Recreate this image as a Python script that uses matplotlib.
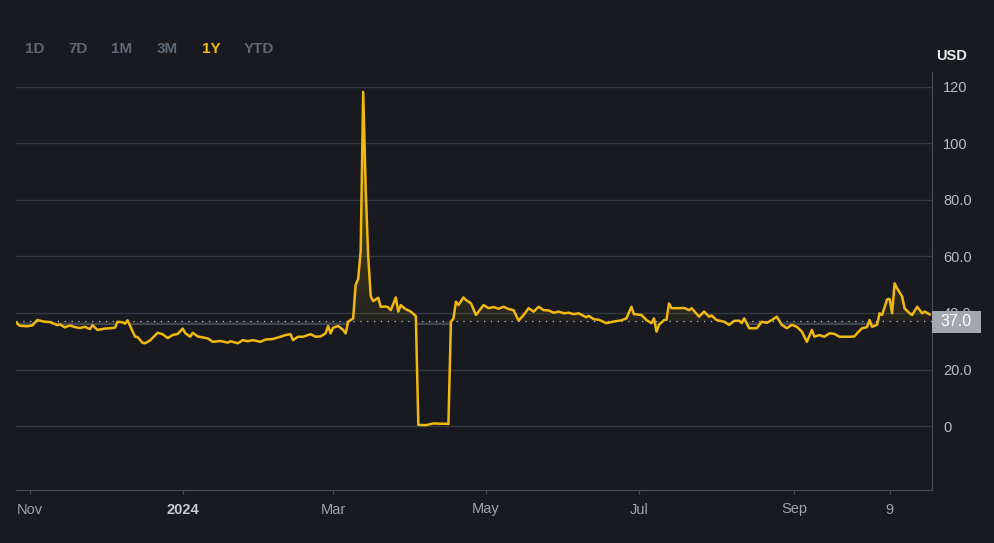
import numpy as np
import pandas as pd
import matplotlib
matplotlib.use("Agg")
import matplotlib.pyplot as plt
import matplotlib.dates as mdates
from matplotlib.path import Path
from matplotlib.patches import Rectangle

# daten
dates = [
    "2023-10-26", "2023-10-28", "2023-10-31", "2023-11-02", "2023-11-04", "2023-11-07", "2023-11-09",
    "2023-11-12", "2023-11-13", "2023-11-15", "2023-11-17", "2023-11-19", "2023-11-21", "2023-11-23",
    "2023-11-25", "2023-11-26", "2023-11-28", "2023-12-01", "2023-12-03", "2023-12-05", "2023-12-06",
    "2023-12-08", "2023-12-09", "2023-12-10", "2023-12-12", "2023-12-13", "2023-12-14", "2023-12-16",
    "2023-12-17", "2023-12-19", "2023-12-22", "2023-12-24", "2023-12-26", "2023-12-28", "2023-12-30",
    "2024-01-01", "2024-01-02", "2024-01-04", "2024-01-05", "2024-01-07", "2024-01-11", "2024-01-13",
    "2024-01-16", "2024-01-19", "2024-01-20", "2024-01-23", "2024-01-25", "2024-01-27", "2024-01-29",
    "2024-02-01", "2024-02-03", "2024-02-06", "2024-02-09", "2024-02-11", "2024-02-13", "2024-02-14",
    "2024-02-16", "2024-02-18", "2024-02-21", "2024-02-23", "2024-02-25", "2024-02-27", "2024-02-28",
    "2024-02-29", "2024-03-01", "2024-03-03", "2024-03-05", "2024-03-06", "2024-03-07", "2024-03-09",
    "2024-03-10", "2024-03-11", "2024-03-12", "2024-03-13", "2024-03-14", "2024-03-15", "2024-03-16",
    "2024-03-17", "2024-03-19", "2024-03-20", "2024-03-22", "2024-03-23", "2024-03-24", "2024-03-26",
    "2024-03-27", "2024-03-28", "2024-03-30", "2024-04-01", "2024-04-03", "2024-04-04", "2024-04-07",
    "2024-04-10", "2024-04-13", "2024-04-15", "2024-04-16", "2024-04-17", "2024-04-18", "2024-04-19",
    "2024-04-20", "2024-04-22", "2024-04-23", "2024-04-25", "2024-04-27", "2024-04-30", "2024-05-02",
    "2024-05-04", "2024-05-06", "2024-05-08", "2024-05-10", "2024-05-12", "2024-05-14", "2024-05-16",
    "2024-05-18", "2024-05-20", "2024-05-22", "2024-05-24", "2024-05-26", "2024-05-28", "2024-05-30",
    "2024-06-01", "2024-06-03", "2024-06-05", "2024-06-07", "2024-06-10", "2024-06-11", "2024-06-13",
    "2024-06-15", "2024-06-18", "2024-06-21", "2024-06-24", "2024-06-26", "2024-06-28", "2024-06-29",
    "2024-07-02", "2024-07-04", "2024-07-06", "2024-07-07", "2024-07-08", "2024-07-09", "2024-07-11",
    "2024-07-12", "2024-07-13", "2024-07-14", "2024-07-17", "2024-07-19", "2024-07-21", "2024-07-22",
    "2024-07-25", "2024-07-27", "2024-07-29", "2024-07-30", "2024-08-01", "2024-08-04", "2024-08-06",
    "2024-08-08", "2024-08-10", "2024-08-11", "2024-08-12", "2024-08-14", "2024-08-17", "2024-08-19",
    "2024-08-21", "2024-08-23", "2024-08-25", "2024-08-27", "2024-08-29", "2024-08-31", "2024-09-02",
    "2024-09-04", "2024-09-06", "2024-09-08", "2024-09-09", "2024-09-11", "2024-09-13", "2024-09-15",
    "2024-09-17", "2024-09-19", "2024-09-23", "2024-09-25", "2024-09-26", "2024-09-28", "2024-09-30",
    "2024-10-01", "2024-10-02", "2024-10-04", "2024-10-05", "2024-10-06", "2024-10-08", "2024-10-09",
    "2024-10-10", "2024-10-11", "2024-10-12", "2024-10-14", "2024-10-15", "2024-10-17", "2024-10-18",
    "2024-10-20", "2024-10-22", "2024-10-23", "2024-10-25",
]
prices = [
    37.0, 35.5, 35.3, 35.6, 37.5, 36.9, 36.8,
    35.7, 36.0, 34.9, 35.6, 35.0, 34.7, 35.1,
    34.3, 35.7, 34.0, 34.5, 34.6, 34.8, 36.9,
    36.7, 36.2, 37.4, 33.5, 31.6, 31.5, 29.4,
    29.3, 30.3, 33.0, 32.5, 31.1, 32.2, 32.6,
    34.5, 32.9, 31.6, 33.0, 31.7, 31.0, 29.8,
    30.1, 29.5, 30.0, 29.3, 30.4, 30.0, 30.4,
    29.8, 30.6, 30.8, 31.6, 32.2, 32.5, 30.4,
    31.6, 31.6, 32.5, 31.6, 31.7, 32.8, 35.4,
    32.8, 34.8, 35.4, 34.0, 32.8, 36.9, 38.1,
    50.0, 52.0, 62.0, 118.3, 84.0, 60.0, 46.0,
    44.2, 45.4, 42.2, 42.3, 42.0, 41.0, 45.5,
    40.5, 42.8, 41.3, 40.5, 38.9, 0.4, 0.3,
    0.9, 0.8, 0.8, 0.7, 36.9, 38.0, 44.0,
    42.8, 45.5, 44.6, 43.4, 39.3, 42.8, 41.7,
    42.1, 41.5, 42.2, 41.4, 41.0, 37.3, 39.3,
    41.7, 40.5, 42.2, 41.0, 40.9, 40.1, 40.5,
    39.9, 40.1, 39.6, 39.9, 38.5, 39.0, 37.8,
    37.6, 36.4, 37.0, 37.4, 38.1, 42.2, 39.6,
    39.3, 37.5, 36.4, 38.1, 33.4, 35.8, 37.5,
    37.6, 43.4, 41.7, 41.7, 41.8, 41.0, 41.7,
    38.7, 40.5, 38.7, 39.1, 37.5, 36.9, 35.8,
    37.2, 37.3, 36.4, 38.1, 34.6, 34.6, 36.9,
    36.5, 37.5, 38.7, 35.8, 34.6, 35.8, 35.1,
    33.4, 29.8, 34.0, 31.6, 32.2, 31.6, 32.8,
    32.6, 31.6, 31.6, 31.7, 32.8, 34.6, 35.0,
    37.5, 35.1, 35.8, 39.9, 39.3, 44.8, 45.0,
    39.9, 50.5, 48.7, 45.8, 41.6, 39.9, 39.3,
    42.2, 39.9, 40.5, 39.5,
]
baseline = 37.0
y_ticks = [0, 20, 40, 60, 80, 100, 120]
y_labels = ["0", "20.0", "40.0", "60.0", "80.0", "100", "120"]
x_ticks = ["2023-11-01", "2024-01-01", "2024-03-01", "2024-05-01", "2024-07-01", "2024-09-01", "2024-10-09"]
x_labels = ["Nov", "2024", "Mar", "May", "Jul", "Sep", "9"]
buttons = ["1D", "7D", "1M", "3M", "1Y", "YTD"]
aktiv = "1Y"

bg = "#181a20"
gelb = "#f0b90b"

t = pd.to_datetime(dates)
tn = mdates.date2num(t)
y = np.array(prices)

fig = plt.figure(figsize=(9.94, 5.43), dpi=100, facecolor=bg)
W, H = 994, 543
ax = fig.add_axes([16 / W, (H - 490) / H, (932 - 16) / W, (490 - 72) / H])
ax.set_facecolor(bg)

x0 = mdates.date2num(pd.Timestamp("2023-10-26 12:00"))
x1 = mdates.date2num(pd.Timestamp("2024-10-25 22:00"))
ymin, ymax = -22.65, 125.3


def verlauf(y_a, y_b, where, rgb, a_oben, a_unten, y_oben, y_unten):
    # gradient fuellung, abgeschnitten auf die flaeche zwischen linie und basis
    poly = ax.fill_between(tn, y_a, y_b, where=where, interpolate=True,
                           facecolor="none", edgecolor="none")
    pfade = poly.get_paths()
    if not pfade:
        return
    pfad = Path.make_compound_path(*pfade)
    n = 256
    img = np.zeros((n, 1, 4))
    img[:, 0, 0:3] = np.array(rgb) / 255
    img[:, 0, 3] = np.linspace(a_unten, a_oben, n)
    im = ax.imshow(img, extent=[x0, x1, y_unten, y_oben], origin="lower",
                   aspect="auto", zorder=1, interpolation="bilinear")
    im.set_clip_path(pfad, ax.transData)


verlauf(y, baseline, y >= baseline, (240, 185, 11), 0.4, 0.06, 120, baseline)
verlauf(baseline, y, y <= baseline, (132, 142, 156), 0.0, 0.5, baseline, baseline - 1.1)

ax.plot(t, y, color=gelb, lw=1.8, zorder=4, solid_joinstyle="round")
ax.axhline(baseline, color="#b7bdc6", lw=0.9, ls=(0, (1, 4.5)), zorder=3)

for v in y_ticks:
    ax.axhline(v, color="#34383f", lw=1.0, zorder=0)

ax.set_xlim(x0, x1)
ax.set_ylim(ymin, ymax)

for s in ["top", "left"]:
    ax.spines[s].set_visible(False)
ax.spines["right"].set_color("#474d57")
ax.spines["bottom"].set_color("#474d57")

ax.yaxis.tick_right()
ax.set_yticks(y_ticks)
ax.set_yticklabels(y_labels)
ax.tick_params(axis="y", length=0, pad=8, labelsize=10.5, labelcolor="#b7bdc6")
for lab in ax.get_yticklabels():
    lab.set_fontfamily("Liberation Sans")
    lab.set_horizontalalignment("left")

ax.set_xticks(mdates.date2num(pd.to_datetime(x_ticks)))
ax.set_xticklabels(x_labels)
ax.tick_params(axis="x", length=3, color="#474d57", pad=6, labelsize=10.5, labelcolor="#9ea4ac")
for lab in ax.get_xticklabels():
    lab.set_fontfamily("Liberation Sans")
    if lab.get_text() == "2024":
        lab.set_fontweight("bold")
        lab.set_color("#c8ccd2")

# preis box rechts
ax.add_patch(Rectangle((932 / W, (H - 333) / H), 49 / W, 22.5 / H, transform=fig.transFigure,
                       facecolor="#a3a8b0", edgecolor="none", zorder=10, clip_on=False))
fig.text(956.5 / W, (H - 322) / H, "37.0", color="white", fontsize=11.5,
         ha="center", va="center", family="Liberation Sans", zorder=11)

fig.text(952 / W, (H - 56) / H, "USD", color="#eaecef", fontsize=10.5, fontweight="bold",
         ha="center", va="center", family="Liberation Sans")

xs = [35, 78, 122, 167, 211, 259]
for b, xb in zip(buttons, xs):
    fig.text(xb / W, (H - 49) / H, b, color=gelb if b == aktiv else "#5e6673",
             fontsize=11, fontweight="bold", ha="center", va="center", family="Liberation Sans")

fig.savefig("out.png", dpi=100, facecolor=bg)
